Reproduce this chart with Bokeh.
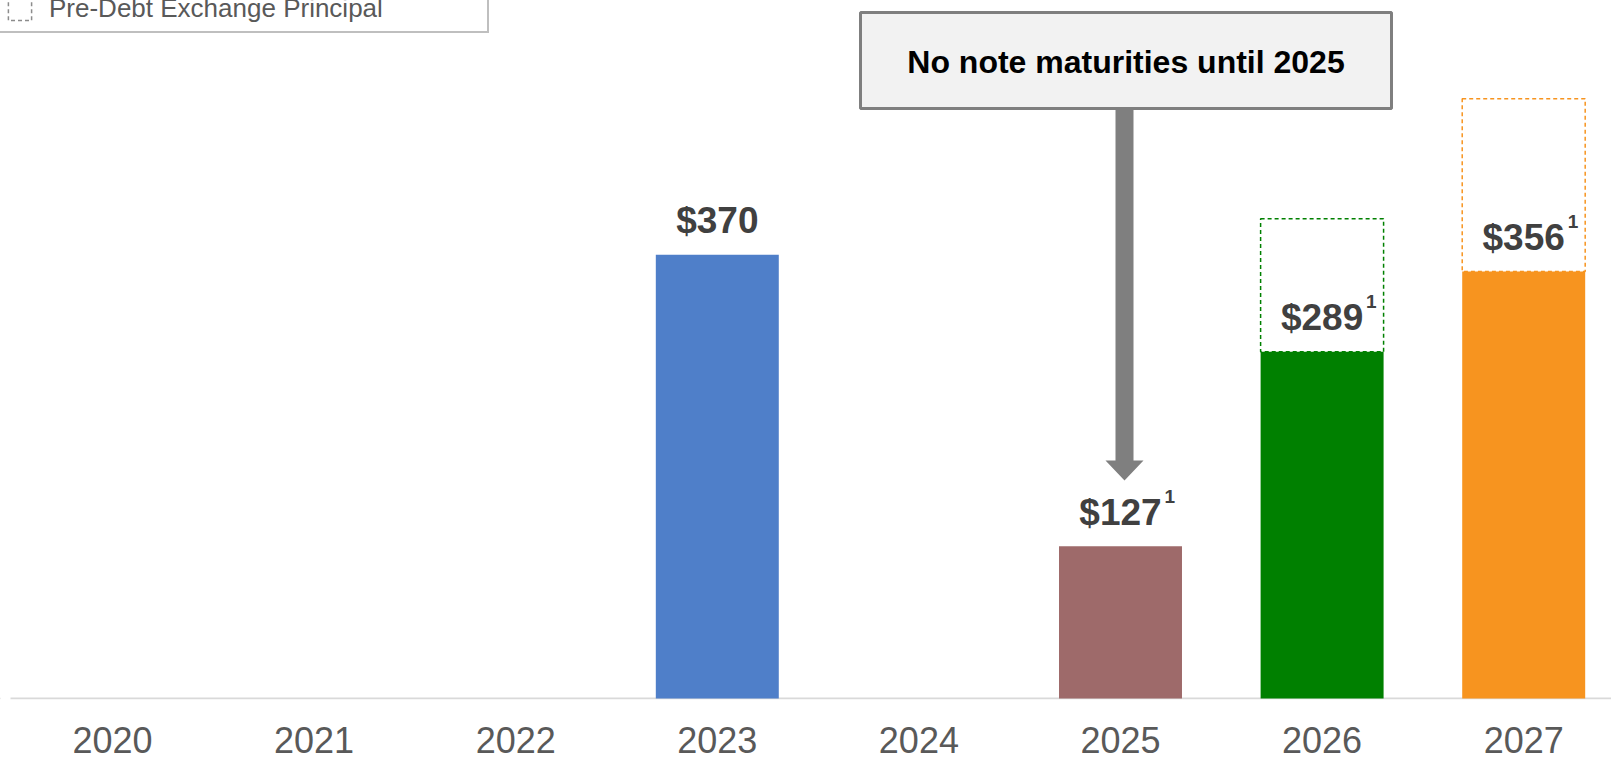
from bokeh.plotting import figure
from bokeh.models import ColumnDataSource, Range1d, FixedTicker, Legend, LegendItem
from bokeh.core.properties import value
from bokeh.embed import file_html
from bokeh.resources import INLINE

# ---- data ----
years = ["2020", "2021", "2022", "2023", "2024", "2025", "2026", "2027"]
maturities = [0, 0, 0, 370, 0, 127, 289, 356]          # post-exchange principal ($M)
pre_exchange = [0, 0, 0, 0, 0, 0, 400, 500]            # pre-debt exchange principal ($M)
bar_colors = ["#4f7fc9", "#4f7fc9", "#4f7fc9", "#4f7fc9", "#9e6a6a", "#9e6a6a", "#008000", "#f7941f"]
footnotes = ["", "", "", "", "", "1", "1", "1"]
callout_text = "No note maturities until 2025"
legend_label = "Pre-Debt Exchange Principal"

FONT = "Liberation Sans"

# pixel geometry helpers (frame: left=0 canvas px, y=0 at canvas 698)
X0, DXP, Y0, DYP = 112.0, 201.6, 698.0, 1.1995
FW, FH = 1611, 699
def dx(px):
    return (px - X0) / DXP
def dy(py):
    return (Y0 - py) / DYP

p = figure(frame_width=FW, frame_height=FH, output_backend="svg", toolbar_location=None,
           x_range=Range1d(dx(0), dx(FW)), y_range=Range1d(dy(FH), dy(0)),
           min_border_left=0, min_border_right=0, min_border_top=0, min_border_bottom=0,
           y_axis_location=None)
p.outline_line_color = None
p.xgrid.visible = False
p.ygrid.visible = False
p.background_fill_color = "white"
p.border_fill_color = "white"

idx = list(range(len(years)))

# baseline
p.segment(x0=[dx(10)], y0=[0], x1=[dx(FW)], y1=[0], line_color="#d9d9d9", line_width=2)

# dashed pre-exchange outlines (from solid top up to pre-exchange principal)
dsh = [i for i in idx if pre_exchange[i] > 0]
dsrc = ColumnDataSource(dict(x=dsh, bottom=[maturities[i] for i in dsh],
                             top=[pre_exchange[i] for i in dsh], color=[bar_colors[i] for i in dsh]))
p.vbar(x="x", bottom="bottom", top="top", width=0.61, source=dsrc, fill_color=None,
       line_color="color", line_dash="4 3", line_width=1.5)

# solid bars
sol = [i for i in idx if maturities[i] > 0]
ssrc = ColumnDataSource(dict(x=sol, top=[maturities[i] for i in sol], color=[bar_colors[i] for i in sol],
                             label=["$" + str(maturities[i]) for i in sol],
                             fn=[footnotes[i] for i in sol]))
p.vbar(x="x", top="top", width=0.61, source=ssrc, fill_color="color", line_color=None)

# value labels
p.text(x="x", y="top", text="label", source=ssrc, text_align="center", text_baseline="alphabetic",
       y_offset=-34, text_font=value(FONT), text_font_style="bold", text_font_size="37px",
       text_color="#404040")
p.text(x="x", y="top", text="fn", source=ssrc, text_align="left", text_baseline="alphabetic",
       x_offset=44, y_offset=-50, text_font=value(FONT), text_font_style="bold", text_font_size="19px",
       text_color="#404040")

# callout box
p.quad(left=[dx(860)], right=[dx(1391)], top=[dy(12)], bottom=[dy(108)],
       fill_color="#f2f2f2", line_color="#7f7f7f", line_width=3)
p.text(x=[dx(1125.5)], y=[dy(61)], text=[callout_text], text_align="center", text_baseline="middle",
       text_font=value(FONT), text_font_style="bold", text_font_size="32px", text_color="#000000")

# arrow
ax = [1115, 1133, 1133, 1143, 1124, 1105, 1115]
ay = [109.5, 109.5, 460, 460, 480, 460, 460]
p.patch(x=[dx(v) for v in ax], y=[dy(v) for v in ay], fill_color="#7f7f7f", line_color=None)

# x axis
p.xaxis.ticker = FixedTicker(ticks=idx)
p.xaxis.major_label_overrides = {i: years[i] for i in idx}
p.xaxis.axis_line_color = None
p.xaxis.major_tick_line_color = None
p.xaxis.minor_tick_line_color = None
p.xaxis.major_tick_out = 0
p.xaxis.major_tick_in = 0
p.xaxis.major_label_standoff = 27
p.xaxis.major_label_text_font = FONT
p.xaxis.major_label_text_font_size = "36px"
p.xaxis.major_label_text_color = "#595959"

# legend (icon renderer placed outside the visible x range)
dummy = p.vbar(x=[-20], top=[1], width=0.5, fill_color=None, line_color="#8c8c8c", line_dash="4 3",
               line_width=1.5)
legend = Legend(items=[LegendItem(label=legend_label, renderers=[dummy])],
                location=(-4, FH - 33), padding=7, spacing=0, margin=0,
                glyph_width=29, glyph_height=29, label_standoff=15, label_width=431,
                label_text_font=FONT, label_text_font_size="26px", label_text_color="#595959",
                border_line_color="#7f7f7f", border_line_width=2, background_fill_color="white",
                background_fill_alpha=1.0)
p.add_layout(legend, "center")

open("out.html", "w").write(file_html(p, INLINE))
